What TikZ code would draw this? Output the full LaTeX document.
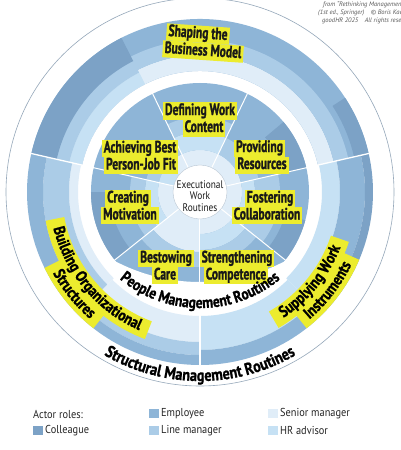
\documentclass[tikz,border=0pt]{standalone}
\usepackage{fontspec}
\setmainfont{PT Sans}
\newfontfamily\boxfam{PT Sans}[FakeStretch=0.7, BoldFeatures={FakeBold=1.3}]
\newfontfamily\arcfam{PT Sans}[FakeStretch=0.85, BoldFeatures={FakeBold=1.1}]
\newfontfamily\legfam{PT Sans}[FakeStretch=0.9]
\usetikzlibrary{decorations.text}
\definecolor{colleague}{RGB}{124,162,198}
\definecolor{employee}{RGB}{142,181,215}
\definecolor{linemgr}{RGB}{171,204,231}
\definecolor{senior}{RGB}{224,237,248}
\definecolor{hradv}{RGB}{198,225,244}
\definecolor{hl}{RGB}{236,236,46}
\definecolor{rim}{RGB}{150,168,186}
\definecolor{ink}{RGB}{25,25,25}
\newcommand{\seg}[5]{\fill[#5] (#1:#3) arc[start angle=#1,end angle=#2,radius=#3] -- (#2:#4) arc[start angle=#2,end angle=#1,radius=#4] -- cycle;}
\newcommand{\boxf}{\boxfam\bfseries\fontsize{16.5}{17}\selectfont}
\newcommand{\arcf}{\arcfam\bfseries\fontsize{16}{18}\selectfont}
\newcommand{\arcfl}{\arcfam\bfseries\fontsize{16.8}{18}\selectfont}
\newcommand{\hlarc}[4]{\draw[hl, line width=#4] (#1:#3) arc[start angle=#1,end angle=#2,radius=#3];}
\newcommand{\arctext}[4]{\path[decorate,decoration={text along path,text align=center,text={|\arcf|#4}}] (#1:#3) arc[start angle=#1,end angle=#2,radius=#3];}
\tikzset{
  hlbox/.style={fill=hl, inner xsep=2pt, inner ysep=1pt, text height=11.5pt, text depth=3.5pt, font=\boxf, text=ink},
  legsq/.style={minimum width=10pt, minimum height=9pt, inner sep=0pt},
  legtxt/.style={anchor=west, font=\legfam\fontsize{11.5}{13}\selectfont, text=black!85, inner sep=0pt},
  copyt/.style={anchor=west, font=\itshape\fontsize{6.5}{7}\selectfont, text=black!65, inner sep=0pt},
  wline/.style={white, line width=1pt}
}
\begin{document}
\begin{tikzpicture}[x=1pt,y=1pt]
\useasboundingbox (-200,-258) rectangle (200,192);
\fill[white] (-200,-258) rectangle (200,192);
\draw[rim, line width=0.6pt] (0,0) circle[radius=194];
% ---------- structural ring ----------
% top sector
\seg{12.857}{167.143}{121}{173}{employee}
\seg{12.857}{167.143}{121}{137}{senior}
\seg{12.857}{167.143}{137}{152}{linemgr}
\seg{117}{167.143}{121}{134}{hradv}
\seg{117}{167.143}{134}{147}{linemgr}
\seg{117}{167.143}{147}{173}{colleague}
\seg{12.857}{33}{158}{173}{colleague}
% bottom-left sector
\seg{167.143}{225}{122}{131}{senior}
\seg{167.143}{225}{131}{157}{linemgr}
\seg{167.143}{225}{157}{173}{employee}
\seg{225}{270}{124}{150}{senior}
\seg{225}{270}{150}{163}{linemgr}
\seg{225}{270}{163}{173}{employee}
% bottom-right sector
\seg{270}{315}{124}{158}{hradv}
\seg{270}{315}{158}{173}{employee}
\seg{315}{372.857}{122}{140}{hradv}
\seg{315}{372.857}{140}{165}{employee}
\seg{315}{372.857}{165}{173}{colleague}
\foreach \a in {12.857,167.143,270} {\draw[wline, line width=1.3pt] (\a:119) -- (\a:174);}
% ---------- inner pie ----------
\fill[employee] (0,0) circle[radius=109];
\seg{0}{360}{27}{42}{senior}
% S0 Strengthening 270-321.43
\seg{270}{321.43}{42}{58}{hradv}
\seg{270}{321.43}{58}{72}{linemgr}
% S1 Fostering 321.43-372.86
\seg{321.43}{372.86}{42}{55}{hradv}
\seg{321.43}{372.86}{55}{80}{linemgr}
\seg{321.43}{345}{88}{109}{colleague}
% S2 Providing 12.86-64.29
\seg{12.86}{64.29}{42}{60}{linemgr}
\seg{12.86}{40}{85}{109}{colleague}
% S3 Defining 64.29-115.71
\seg{64.29}{115.71}{42}{60}{hradv}
\seg{64.29}{115.71}{60}{75}{linemgr}
% S4 Achieving 115.71-167.14
\seg{115.71}{167.14}{42}{55}{linemgr}
\seg{140}{167.14}{27}{42}{hradv}
% S5 Creating 167.14-218.57
\seg{167.14}{218.57}{42}{55}{hradv}
\seg{167.14}{218.57}{55}{70}{linemgr}
\seg{180}{218.57}{90}{109}{colleague}
% S6 Bestowing 218.57-270
\seg{218.57}{270}{27}{60}{senior}
\seg{218.57}{270}{60}{75}{linemgr}
\foreach \a in {270,321.43,12.857,64.286,115.714,167.143,218.571} {\draw[wline] (\a:26) -- (\a:110);}
% white band for the people label
\begin{scope}
\clip (0,0) circle[radius=112];
\fill[white, even odd rule] (-200,-258) rectangle (200,192) (0,93) circle[radius=183];
\end{scope}
% ---------- centre ----------
\node[circle, fill=white, draw=rim!60, line width=0.4pt, minimum size=54pt, inner sep=0pt] (core) at (0,0) {};
\node[align=center, font=\arcfam\fontsize{11}{11.5}\selectfont, text=ink, inner sep=0pt] (coretxt) at (0,-4) {Executional\\Work\\Routines};
% ---------- pie labels ----------
\node[hlbox] (d1) at (0,81) {Defining Work};
\node[hlbox] (d2) at (4,64) {Content};
\node[hlbox] (p1) at (59.5,44) {Providing};
\node[hlbox] (p2) at (62,27) {Resources};
\node[hlbox] (a1) at (-60,43.5) {Achieving Best};
\node[hlbox] (a2) at (-59,26.5) {Person-Job Fit};
\node[hlbox] (c1) at (-72,-6.5) {Creating};
\node[hlbox] (c2) at (-70,-23.5) {Motivation};
\node[hlbox] (f1) at (70,-6.5) {Fostering};
\node[hlbox] (f2) at (67,-23.5) {Collaboration};
\node[hlbox] (b1) at (-34,-66.5) {Bestowing};
\node[hlbox] (b2) at (-35,-83.5) {Care};
\node[hlbox] (s1) at (37,-66.5) {Strengthening};
\node[hlbox] (s2) at (36,-83.5) {Competence};
% ---------- ring labels ----------
\node[hlbox, rotate=-4] (sh1) at (-2,158) {Shaping the};
\node[hlbox, rotate=-4] (sh2) at (3,140.5) {Business Model};
\hlarc{190.5}{249.5}{147.5}{19}
\hlarc{206}{232}{164}{18}
\hlarc{-60}{-18.5}{147.5}{19}
\hlarc{-52}{-23}{164}{18}
\arctext{160}{280}{151}{Building Organizational}
\arctext{189}{249}{168}{Structures}
\arctext{-99}{21}{151}{Supplying Work}
\arctext{-67.5}{-7.5}{168}{Instruments}
\path[decorate,decoration={text along path,text align=center,text={|\arcf|People Management Routines}}] (0,10) ++(200:126) arc[start angle=200,end angle=340,radius=126];
\path[decorate,decoration={text along path,text align=center,text={|\arcfl|Structural Management Routines}}] (200:189) arc[start angle=200,end angle=340,radius=189];
% ---------- legend ----------
\node[legtxt] (lt) at (-167,-222) {Actor roles:};
\node[legsq, fill=colleague] (lq1) at (-162,-238.5) {};
\node[legtxt] (l1) at (-155,-238.5) {Colleague};
\node[legsq, fill=employee] (lq2) at (-46,-221.5) {};
\node[legtxt] (l2) at (-39,-221.5) {Employee};
\node[legsq, fill=linemgr] (lq3) at (-46,-238.5) {};
\node[legtxt] (l3) at (-39,-238.5) {Line manager};
\node[legsq, fill=senior] (lq4) at (73,-221.5) {};
\node[legtxt] (l4) at (80,-221.5) {Senior manager};
\node[legsq, fill=hradv] (lq5) at (73,-238.5) {};
\node[legtxt] (l5) at (80,-238.5) {HR advisor};
% ---------- credit ----------
\node[copyt] (cp1) at (123,187) {from “Rethinking Management”};
\node[copyt] (cp2) at (118,179) {(1st ed., Springer)\quad © Boris Kaehler};
\node[copyt] (cp3) at (122,171) {goodHR 2025\quad All rights reserved};
\end{tikzpicture}
\end{document}
